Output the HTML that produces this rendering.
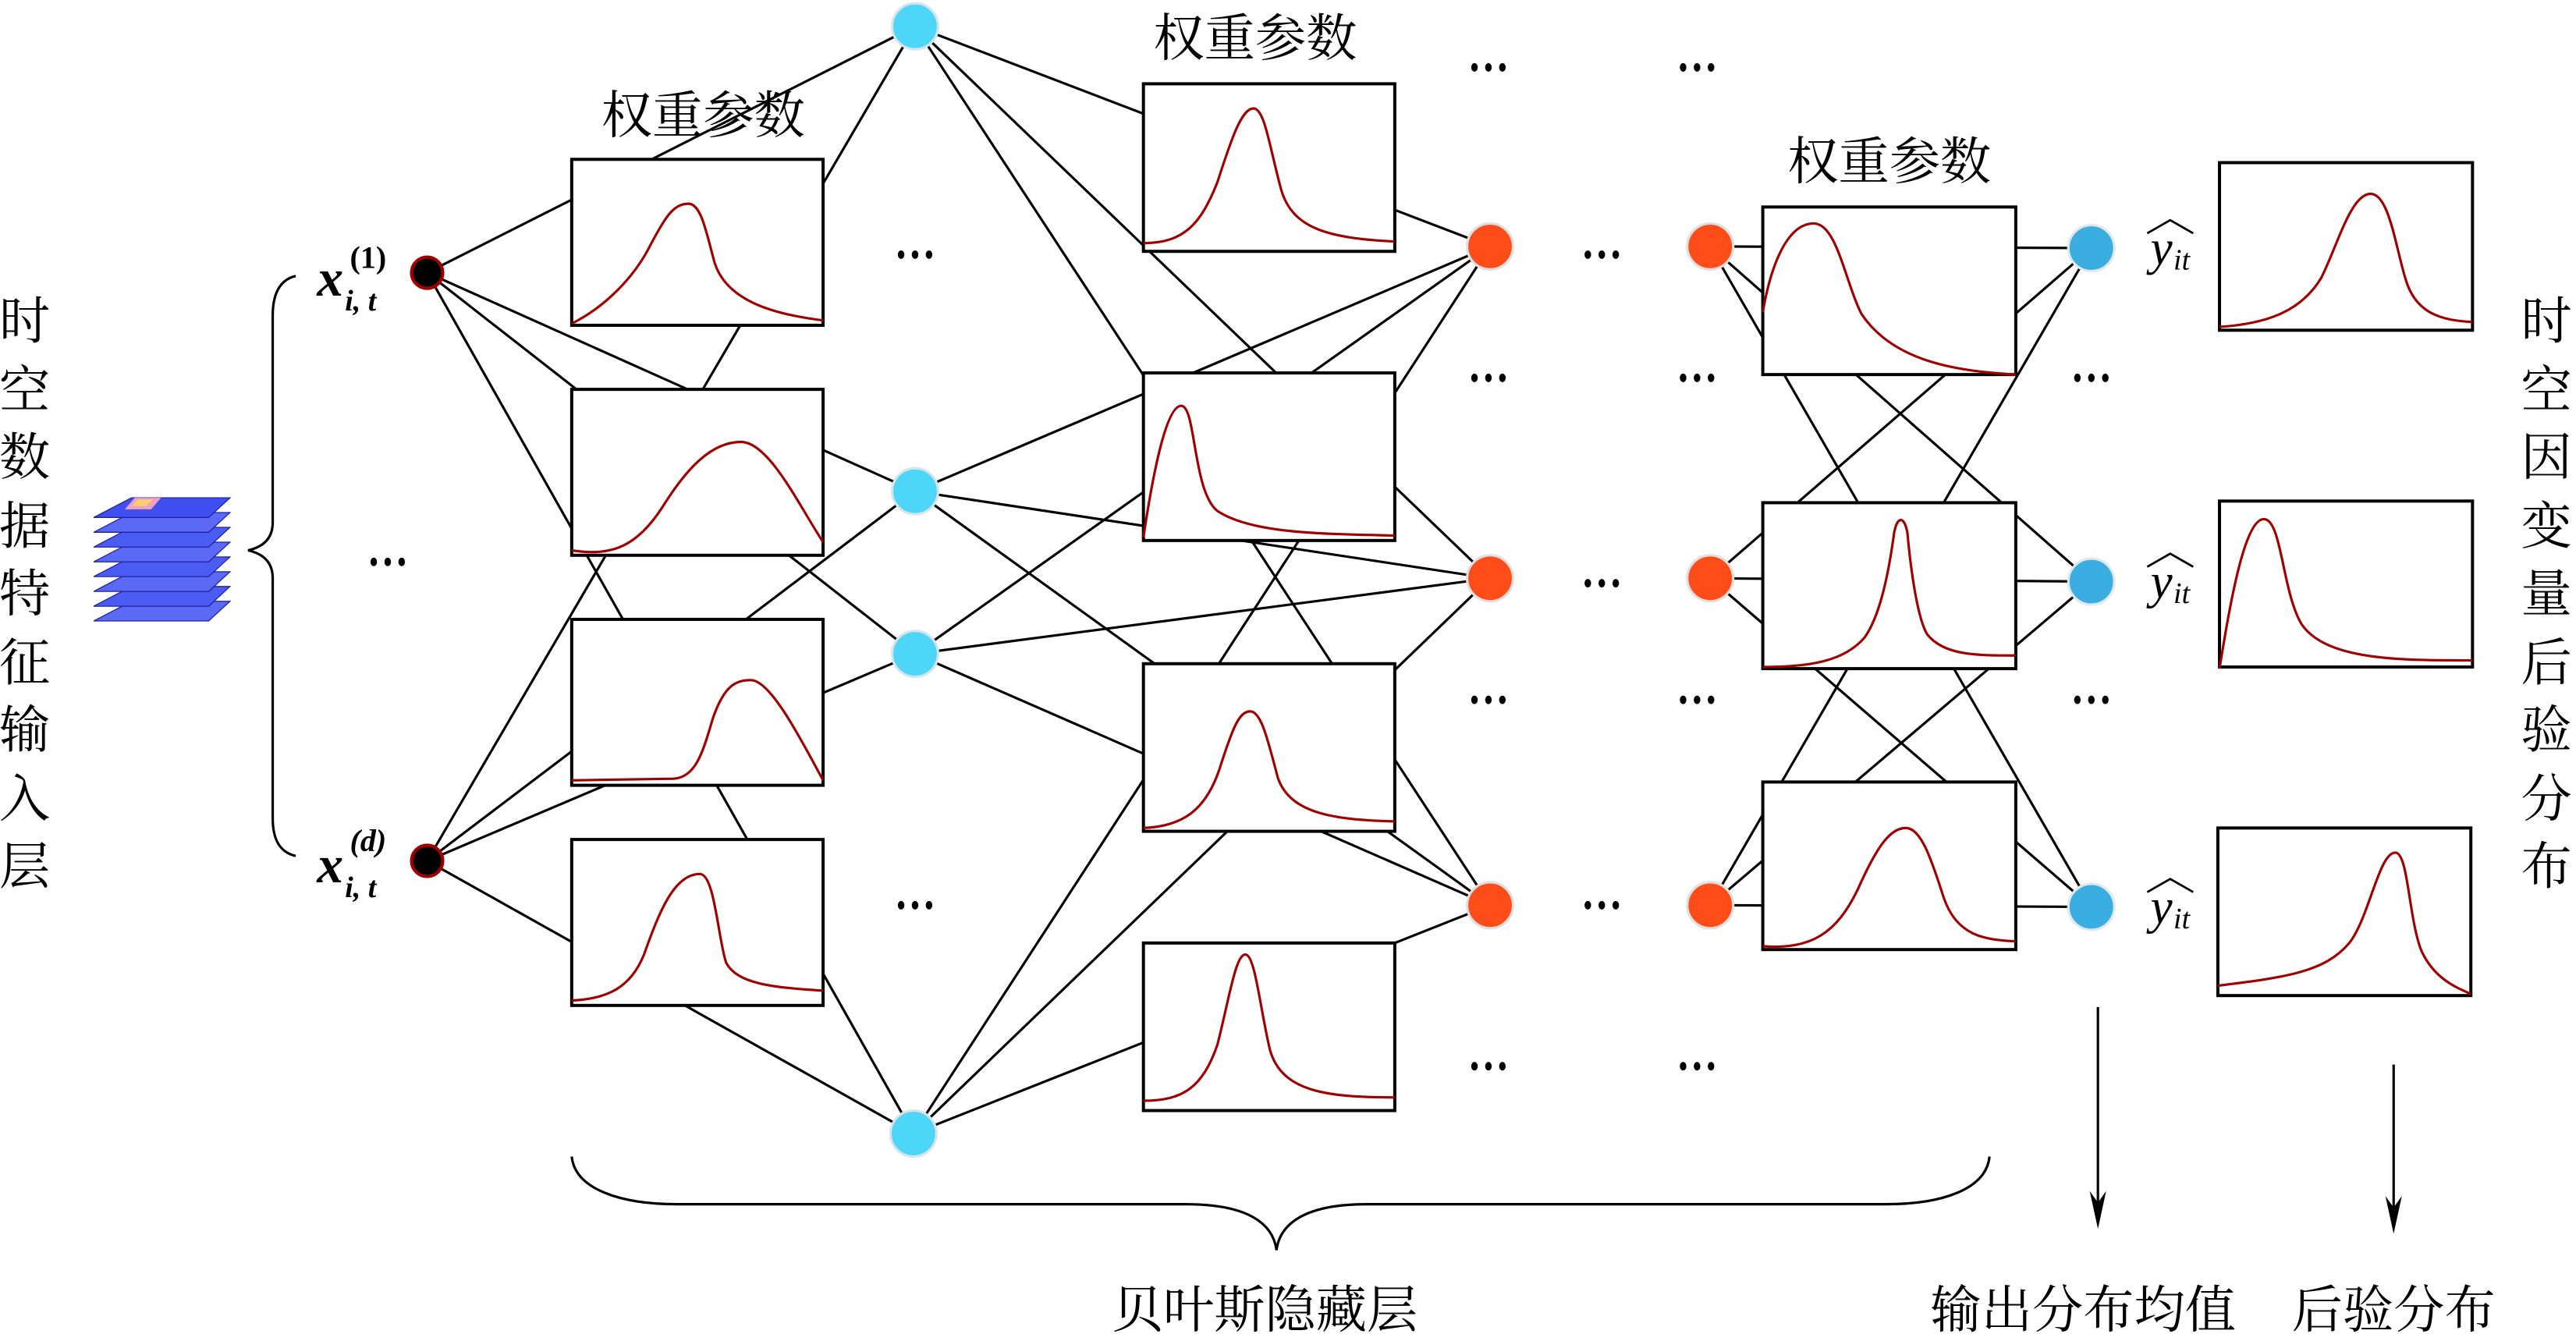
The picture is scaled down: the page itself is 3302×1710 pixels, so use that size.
<!DOCTYPE html>
<html><head><meta charset="utf-8"><style>
html,body{margin:0;padding:0;background:#fff;}
svg{display:block;}
.cn{font-family:"Liberation Serif","Noto Serif CJK SC",serif;font-size:31px;fill:#000;}
.it{font-family:"Liberation Serif",serif;font-style:italic;fill:#000;}
</style></head><body>
<svg width="3302" height="1710" viewBox="0 0 1568 812" preserveAspectRatio="none" xmlns="http://www.w3.org/2000/svg">
<rect x="0" y="0" width="1568" height="812" fill="#fff"/>
<g stroke="#000" stroke-width="1.5" fill="none">
<path d="M260,166L557,16M260,166L557,299M260,166L557,398M260,166L556,690"/>
<path d="M260,524L557,16M260,524L557,299M260,524L557,398M260,524L556,690"/>
<path d="M557,16L907,150M557,16L907,352M557,16L907,551"/>
<path d="M557,299L907,150M557,299L907,352M557,299L907,551"/>
<path d="M557,398L907,150M557,398L907,352M557,398L907,551"/>
<path d="M556,690L907,150M556,690L907,352M556,690L907,551"/>
<path d="M1041,150L1273,151M1041,150L1273,354M1041,150L1273,552"/>
<path d="M1041,352L1273,151M1041,352L1273,354M1041,352L1273,552"/>
<path d="M1041,551L1273,151M1041,551L1273,354M1041,551L1273,552"/>
</g>
<g fill="#fff" stroke="#000" stroke-width="1.9">
<rect x="348" y="97" width="153" height="101"/>
<rect x="348" y="237" width="153" height="101"/>
<rect x="348" y="377" width="153" height="101"/>
<rect x="348" y="511" width="153" height="101"/>
<rect x="696" y="51" width="153" height="102"/>
<rect x="696" y="227" width="153" height="102"/>
<rect x="696" y="404" width="153" height="102"/>
<rect x="696" y="574" width="153" height="102"/>
<rect x="1073" y="126" width="154" height="102"/>
<rect x="1073" y="306" width="154" height="101"/>
<rect x="1073" y="476" width="154" height="102"/>
<rect x="1351" y="99" width="154" height="102"/>
<rect x="1351" y="305" width="154" height="101"/>
<rect x="1350" y="504" width="154" height="102"/>
</g>
<g fill="none" stroke="#a00000" stroke-width="1.5">
<path transform="translate(348,97)" d="M0,100 C20,90 38,72 48,52 C57,35 62,27 71,27 C79,27 82,45 87,63 C94,85 120,94 153,98"/>
<path transform="translate(348,237)" d="M0,98 C25,102 40,95 55,72 C70,48 85,32 103,32 C120,32 138,70 153,93"/>
<path transform="translate(348,377)" d="M0,98 L62,97 C76,96 80,80 86,60 C93,40 100,37 109,37 C120,37 136,66 153,98"/>
<path transform="translate(348,511)" d="M0,98 C22,97 36,90 44,70 C53,45 62,21 78,21 C87,21 89,60 94,75 C101,88 122,90 153,92"/>
<path transform="translate(696,51)" d="M0,97 C25,97 35,85 45,60 C54,32 60,15 67,15 C74,15 77,40 84,65 C91,88 112,94 153,96"/>
<path transform="translate(696,227)" d="M0,100 C6,60 14,20 23,20 C32,20 30,72 45,84 C66,98 110,98 153,99"/>
<path transform="translate(696,404)" d="M0,100 C25,99 38,88 46,65 C54,40 58,29 65,29 C72,29 76,48 82,70 C90,92 118,95 153,96"/>
<path transform="translate(696,574)" d="M0,96 C24,96 36,88 45,62 C52,35 56,7 62,7 C68,7 71,40 77,65 C84,90 110,94 153,94"/>
<path transform="translate(1073,126)" d="M0,64 C5,35 15,10 31,10 C45,10 50,45 60,65 C80,95 120,100 154,102"/>
<path transform="translate(1073,306)" d="M0,100 C30,100 50,96 62,82 C72,68 77,40 80,18 C82,8 86,8 88,18 C90,40 94,70 100,80 C110,93 130,93 154,93"/>
<path transform="translate(1073,476)" d="M0,100 C30,102 45,92 58,65 C70,38 78,28 87,28 C96,28 102,45 110,70 C118,94 135,96 154,97"/>
<path transform="translate(1351,99)" d="M0,100 C30,98 50,90 62,70 C72,50 80,19 92,19 C103,19 107,50 113,70 C119,92 135,96 154,97"/>
<path transform="translate(1351,305)" d="M0,102 C6,65 15,11 27,11 C38,11 38,55 50,75 C65,97 110,97 154,97"/>
<path transform="translate(1350,504)" d="M0,96 C40,91 65,88 80,70 C92,55 98,15 108,15 C116,15 116,55 124,75 C132,92 145,97 154,101"/>
</g>
<g stroke="#a00000" stroke-width="2" fill="#000">
<ellipse cx="260" cy="166" rx="9.5" ry="9.5"/>
<ellipse cx="260" cy="524" rx="9.5" ry="9.5"/>
</g>
<g fill="#4dd6f8" stroke="#d4e6ec" stroke-width="1.5">
<ellipse cx="557" cy="16" rx="14" ry="14"/>
<ellipse cx="557" cy="299" rx="14" ry="14"/>
<ellipse cx="557" cy="398" rx="14" ry="14"/>
<ellipse cx="556" cy="690" rx="14" ry="14"/>
</g>
<g fill="#ff4d1a" stroke="#e0e0e0" stroke-width="1.5">
<ellipse cx="907" cy="150" rx="14" ry="14"/>
<ellipse cx="907" cy="352" rx="14" ry="14"/>
<ellipse cx="907" cy="551" rx="14" ry="14"/>
<ellipse cx="1041" cy="150" rx="14" ry="14"/>
<ellipse cx="1041" cy="352" rx="14" ry="14"/>
<ellipse cx="1041" cy="551" rx="14" ry="14"/>
</g>
<g fill="#3aaee0" stroke="#e0e8ec" stroke-width="1.5">
<ellipse cx="1273" cy="151" rx="14" ry="14"/>
<ellipse cx="1273" cy="354" rx="14" ry="14"/>
<ellipse cx="1273" cy="552" rx="14" ry="14"/>
</g>
<g fill="#000">
<g transform="translate(557,155)"><ellipse cx="-8.5" cy="0" rx="2" ry="2.6"/><ellipse cx="0" cy="0" rx="2" ry="2.6"/><ellipse cx="8.5" cy="0" rx="2" ry="2.6"/></g>
<g transform="translate(236,342)"><ellipse cx="-8.5" cy="0" rx="2" ry="2.6"/><ellipse cx="0" cy="0" rx="2" ry="2.6"/><ellipse cx="8.5" cy="0" rx="2" ry="2.6"/></g>
<g transform="translate(557,551)"><ellipse cx="-8.5" cy="0" rx="2" ry="2.6"/><ellipse cx="0" cy="0" rx="2" ry="2.6"/><ellipse cx="8.5" cy="0" rx="2" ry="2.6"/></g>
<g transform="translate(906,41)"><ellipse cx="-8.5" cy="0" rx="2" ry="2.6"/><ellipse cx="0" cy="0" rx="2" ry="2.6"/><ellipse cx="8.5" cy="0" rx="2" ry="2.6"/></g>
<g transform="translate(1033,41)"><ellipse cx="-8.5" cy="0" rx="2" ry="2.6"/><ellipse cx="0" cy="0" rx="2" ry="2.6"/><ellipse cx="8.5" cy="0" rx="2" ry="2.6"/></g>
<g transform="translate(975,155)"><ellipse cx="-8.5" cy="0" rx="2" ry="2.6"/><ellipse cx="0" cy="0" rx="2" ry="2.6"/><ellipse cx="8.5" cy="0" rx="2" ry="2.6"/></g>
<g transform="translate(906,230)"><ellipse cx="-8.5" cy="0" rx="2" ry="2.6"/><ellipse cx="0" cy="0" rx="2" ry="2.6"/><ellipse cx="8.5" cy="0" rx="2" ry="2.6"/></g>
<g transform="translate(1033,230)"><ellipse cx="-8.5" cy="0" rx="2" ry="2.6"/><ellipse cx="0" cy="0" rx="2" ry="2.6"/><ellipse cx="8.5" cy="0" rx="2" ry="2.6"/></g>
<g transform="translate(1273,230)"><ellipse cx="-8.5" cy="0" rx="2" ry="2.6"/><ellipse cx="0" cy="0" rx="2" ry="2.6"/><ellipse cx="8.5" cy="0" rx="2" ry="2.6"/></g>
<g transform="translate(975,355)"><ellipse cx="-8.5" cy="0" rx="2" ry="2.6"/><ellipse cx="0" cy="0" rx="2" ry="2.6"/><ellipse cx="8.5" cy="0" rx="2" ry="2.6"/></g>
<g transform="translate(906,426)"><ellipse cx="-8.5" cy="0" rx="2" ry="2.6"/><ellipse cx="0" cy="0" rx="2" ry="2.6"/><ellipse cx="8.5" cy="0" rx="2" ry="2.6"/></g>
<g transform="translate(1033,426)"><ellipse cx="-8.5" cy="0" rx="2" ry="2.6"/><ellipse cx="0" cy="0" rx="2" ry="2.6"/><ellipse cx="8.5" cy="0" rx="2" ry="2.6"/></g>
<g transform="translate(1273,426)"><ellipse cx="-8.5" cy="0" rx="2" ry="2.6"/><ellipse cx="0" cy="0" rx="2" ry="2.6"/><ellipse cx="8.5" cy="0" rx="2" ry="2.6"/></g>
<g transform="translate(975,551)"><ellipse cx="-8.5" cy="0" rx="2" ry="2.6"/><ellipse cx="0" cy="0" rx="2" ry="2.6"/><ellipse cx="8.5" cy="0" rx="2" ry="2.6"/></g>
<g transform="translate(906,649)"><ellipse cx="-8.5" cy="0" rx="2" ry="2.6"/><ellipse cx="0" cy="0" rx="2" ry="2.6"/><ellipse cx="8.5" cy="0" rx="2" ry="2.6"/></g>
<g transform="translate(1033,649)"><ellipse cx="-8.5" cy="0" rx="2" ry="2.6"/><ellipse cx="0" cy="0" rx="2" ry="2.6"/><ellipse cx="8.5" cy="0" rx="2" ry="2.6"/></g>
</g>
<g fill="none" stroke="#000" stroke-width="1.5">
<path d="M180,168 C171,170 166,178 166,192 L166,318 C166,328 160,333 151,335 C160,337 166,342 166,352 L166,498 C166,512 171,519 180,521"/>
<path d="M348,704 C350,724 378,733 412,733 L722,733 C760,733 775,745 777,761 C779,745 794,733 832,733 L1148,733 C1182,733 1209,724 1211,704"/>
<path d="M1277,613 L1277,735 M1457,648 L1457,738"/>
</g>
<path d="M1277,748 L1272,725 L1277,732 L1282,725 Z" fill="#000"/>
<path d="M1457,751 L1452,728 L1457,735 L1462,728 Z" fill="#000"/>
<g stroke="#2020a0" stroke-width="0.6">
<polygon points="80,366 140,366 127,378 57,378" fill="#5a6af5"/>
<polygon points="80,357 140,357 127,369 57,369" fill="#4a5cf2"/>
<polygon points="80,348 140,348 127,360 57,360" fill="#5a6af5"/>
<polygon points="80,339 140,339 127,351 57,351" fill="#4a5cf2"/>
<polygon points="80,330 140,330 127,342 57,342" fill="#5a6af5"/>
<polygon points="80,321 140,321 127,333 57,333" fill="#4a5cf2"/>
<polygon points="80,312 140,312 127,324 57,324" fill="#5a6af5"/>
<polygon points="80,303 140,303 127,315 57,315" fill="#3f4ff0"/>
</g>
<polygon points="82,303 98,303 92,310 76,310" fill="#f0a0c0"/>
<polygon points="84,304 93,304 89,308 80,308" fill="#f8d070"/>
<text class="cn" x="428" y="81" text-anchor="middle">权重参数</text>
<text class="cn" x="764" y="34" text-anchor="middle">权重参数</text>
<text class="cn" x="1150" y="109" text-anchor="middle">权重参数</text>
<text class="cn" x="770" y="808" text-anchor="middle">贝叶斯隐藏层</text>
<text class="cn" x="1268" y="808" text-anchor="middle">输出分布均值</text>
<text class="cn" x="1457" y="808" text-anchor="middle">后验分布</text>
<g class="cn" text-anchor="middle">
<text x="15" y="206">时</text><text x="15" y="248">空</text><text x="15" y="289">数</text>
<text x="15" y="331">据</text><text x="15" y="372">特</text><text x="15" y="414">征</text>
<text x="15" y="455">输</text><text x="15" y="497">入</text><text x="15" y="538">层</text>
<text x="1550" y="206">时</text><text x="1550" y="248">空</text><text x="1550" y="289">因</text>
<text x="1550" y="331">变</text><text x="1550" y="372">量</text><text x="1550" y="414">后</text>
<text x="1550" y="455">验</text><text x="1550" y="497">分</text><text x="1550" y="538">布</text>
</g>
<text class="it" x="193" y="180" font-size="32" font-weight="bold">x</text>
<text class="it" x="210" y="189" font-size="18" font-weight="bold">i, t</text>
<text x="213" y="163" font-size="19" font-weight="bold" font-family="Liberation Serif,serif">(1)</text>
<text class="it" x="193" y="537" font-size="32" font-weight="bold">x</text>
<text class="it" x="210" y="546" font-size="18" font-weight="bold">i, t</text>
<text class="it" x="213" y="518" font-size="19" font-weight="bold">(d)</text>
<g>
<text class="it" x="1309" y="161" font-size="30">y</text><text class="it" x="1323" y="164" font-size="18">it</text>
<polyline points="1307,142 1321,134 1335,142" fill="none" stroke="#000" stroke-width="1.3"/>
<text class="it" x="1309" y="364" font-size="30">y</text><text class="it" x="1323" y="367" font-size="18">it</text>
<polyline points="1307,345 1321,337 1335,345" fill="none" stroke="#000" stroke-width="1.3"/>
<text class="it" x="1309" y="562" font-size="30">y</text><text class="it" x="1323" y="565" font-size="18">it</text>
<polyline points="1307,543 1321,535 1335,543" fill="none" stroke="#000" stroke-width="1.3"/>
</g>
</svg>
</body></html>
